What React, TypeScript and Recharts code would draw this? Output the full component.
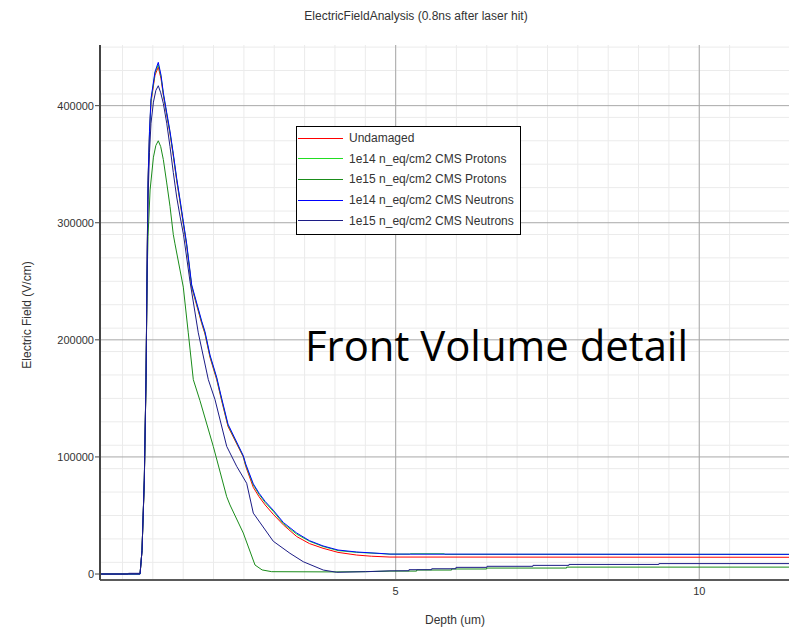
import React from 'react';
import { LineChart, Line, XAxis, YAxis, CartesianGrid, Legend } from 'recharts';

// ---- axis ranges / ticks ----
const X_MIN = 0.13;
const X_MAX = 11.61;
const Y_MIN = -5100;
const Y_MAX = 451800;

const xMajorTicks = [5, 10];
const xMinorTicks = [0.5, 1, 1.5, 2, 2.5, 3, 3.5, 4, 4.5, 5, 5.5, 6, 6.5, 7, 7.5, 8, 8.5, 9, 9.5, 10, 10.5, 11, 11.5];
const yMajorTicks = [0, 100000, 200000, 300000, 400000];
const yMajorGrid = [100000, 200000, 300000, 400000];
const yMinorTicks = [
  0, 10000, 20000, 30000, 40000, 50000, 60000, 70000, 80000, 90000,
  100000, 110000, 120000, 130000, 140000, 150000, 160000, 170000, 180000, 190000,
  200000, 210000, 220000, 230000, 240000, 250000, 260000, 270000, 280000, 290000,
  300000, 310000, 320000, 330000, 340000, 350000, 360000, 370000, 380000, 390000,
  400000, 410000, 420000, 430000, 440000, 450000,
];

// ---- series: [depth (um), field (V/cm)] ----
const undamaged: number[][] = [
  [0.13, 0], [0.79, 0], [0.822, 20000], [0.86, 80000], [0.888, 166000], [0.909, 277000],
  [0.921, 334000], [0.945, 375000], [0.97, 403000], [1.036, 426000], [1.09, 433000],
  [1.135, 423000], [1.173, 409000], [1.229, 392000], [1.283, 376000], [1.337, 357000],
  [1.393, 336000], [1.45, 317000], [1.502, 299000], [1.558, 280000], [1.64, 245000],
  [1.805, 214000], [1.859, 205000], [1.942, 185000], [2.052, 166000], [2.134, 148000],
  [2.238, 126000], [2.49, 100000], [2.53, 92000], [2.655, 74000], [2.75, 66000],
  [2.85, 59000], [2.984, 51000], [3.15, 42000], [3.37, 32000], [3.58, 26000],
  [3.803, 22000], [4.05, 18500], [4.358, 16200], [4.6, 15200], [4.906, 14500], [11.61, 14300],
];

const protons1e14: number[][] = [
  [0.13, 0], [0.79, 0], [0.822, 20000], [0.86, 81000], [0.888, 167000], [0.909, 278000],
  [0.921, 335000], [0.945, 376000], [0.97, 404000], [1.036, 428000], [1.09, 435000],
  [1.135, 425000], [1.173, 410000], [1.229, 393000], [1.283, 377000], [1.337, 358000],
  [1.393, 337000], [1.45, 318000], [1.502, 300000], [1.558, 281000], [1.64, 246000],
  [1.805, 215000], [1.859, 206000], [1.942, 186000], [2.052, 167000], [2.134, 149000],
  [2.238, 127000], [2.49, 100500], [2.53, 93000], [2.655, 76000], [2.75, 68000],
  [2.85, 61000], [2.984, 53500], [3.15, 43000], [3.37, 34000], [3.58, 28000],
  [3.803, 23500], [4.05, 20000], [4.358, 18500], [4.741, 17500], [4.906, 17000],
  [5.23, 17000], [5.24, 17300], [5.8, 17300], [5.81, 16800], [11.61, 16800],
];

const protons1e15: number[][] = [
  [0.13, 0], [0.79, 0], [0.822, 20000], [0.86, 80000], [0.888, 166000], [0.905, 250000],
  [0.921, 288000], [0.955, 328000], [1.01, 356000], [1.05, 366000], [1.09, 370000],
  [1.13, 365000], [1.173, 354000], [1.229, 334000], [1.283, 314000], [1.337, 290000],
  [1.365, 282000], [1.502, 245000], [1.584, 206000], [1.667, 166000], [1.777, 148000],
  [1.996, 109000], [2.217, 66000], [2.271, 59000], [2.49, 35000], [2.683, 7700],
  [2.8, 3500], [2.958, 2000], [4.0, 1800], [4.5, 2000], [4.906, 2500],
  [5.345, 2500], [5.346, 3400], [5.921, 3400], [5.922, 4300], [6.498, 4300], [6.499, 5100],
  [7.815, 5100], [7.816, 5900], [11.61, 5900],
];

const neutrons1e14: number[][] = [
  [0.13, 0], [0.79, 0], [0.822, 20000], [0.86, 82000], [0.888, 168000], [0.909, 279000],
  [0.921, 336000], [0.945, 378000], [0.97, 406000], [1.036, 429000], [1.09, 437000],
  [1.135, 426000], [1.173, 411000], [1.229, 394000], [1.283, 378000], [1.337, 359000],
  [1.393, 338000], [1.45, 319000], [1.502, 301000], [1.558, 282000], [1.64, 247000],
  [1.805, 216000], [1.859, 207000], [1.942, 187000], [2.052, 168000], [2.134, 150000],
  [2.238, 128000], [2.49, 101000], [2.53, 94000], [2.655, 77000], [2.75, 69000],
  [2.85, 62000], [2.984, 54500], [3.15, 44000], [3.37, 35000], [3.58, 28500],
  [3.803, 24000], [4.05, 20500], [4.358, 18800], [4.741, 17600], [4.906, 17000], [11.61, 16800],
];

const neutrons1e15: number[][] = [
  [0.13, 0], [0.59, 0], [0.6, 600], [0.79, 600], [0.822, 20000], [0.86, 80000],
  [0.888, 166000], [0.909, 275000], [0.921, 320000], [0.945, 360000], [0.97, 385000],
  [1.01, 403000], [1.05, 413000], [1.09, 417000], [1.13, 411000], [1.173, 402000],
  [1.229, 385000], [1.283, 365000], [1.337, 343000], [1.393, 322000], [1.45, 305000],
  [1.505, 290000], [1.612, 250000], [1.749, 206000], [1.914, 166000], [2.024, 149000],
  [2.217, 109000], [2.381, 92000], [2.546, 77500], [2.655, 52000], [2.984, 28000],
  [3.259, 17700], [3.478, 10500], [3.808, 3400], [4.028, 1500], [4.5, 2000], [4.906, 2700],
  [5.218, 2800], [5.219, 3700], [5.592, 3700], [5.593, 4500], [5.992, 4500], [5.993, 5700],
  [6.503, 5700], [6.504, 6600], [7.26, 6600], [7.261, 7400], [7.853, 7400], [7.854, 8200],
  [9.335, 8200], [9.336, 8900], [11.61, 8900],
];

const seriesNames = [
  'Undamaged',
  '1e14 n_eq/cm2 CMS Protons',
  '1e15 n_eq/cm2 CMS Protons',
  '1e14 n_eq/cm2 CMS Neutrons',
  '1e15 n_eq/cm2 CMS Neutrons',
];
const seriesColors = ['#ff0000', '#22dd22', '#1a8c1a', '#0000ff', '#1c1c86'];
const seriesValues = [undamaged, protons1e14, protons1e15, neutrons1e14, neutrons1e15];

const toPoints = (arr: number[][]) => arr.map(([depth, field]) => ({ depth, field }));

const FONT = '"Liberation Sans", Arial, sans-serif';

const EmptyTick = () => <g />;

const LegendBox = () => (
  <div
    style={{
      width: 225,
      height: 109,
      boxSizing: 'border-box',
      border: '1px solid #000',
      background: '#fff',
      position: 'relative',
      fontFamily: FONT,
      fontSize: 12,
      color: '#333',
    }}
  >
    {seriesNames.map((name, i) => (
      <div
        key={name}
        style={{
          position: 'absolute',
          left: 0,
          top: 1 + i * 20.6,
          height: 20.6,
          width: '100%',
          display: 'flex',
          alignItems: 'center',
        }}
      >
        <div style={{ marginLeft: 1, width: 45, height: 0, borderTop: `1px solid ${seriesColors[i]}` }} />
        <span style={{ marginLeft: 6, whiteSpace: 'nowrap', lineHeight: '14px' }}>{name}</span>
      </div>
    ))}
  </div>
);

export default function App() {
  return (
    <div style={{ position: 'absolute', left: 0, top: 0, width: 789, height: 627, overflow: 'hidden', background: '#fff' }}>
      <LineChart width={800} height={627} margin={{ top: 45, right: 3, bottom: 0, left: 0 }}>
        <CartesianGrid stroke="#ebebeb" strokeWidth={1} horizontalValues={yMinorTicks} verticalValues={xMinorTicks} />
        <CartesianGrid stroke="#a8a8a8" strokeWidth={1} horizontalValues={yMajorGrid} verticalValues={xMajorTicks} />

        <XAxis
          xAxisId="minor"
          type="number"
          dataKey="depth"
          domain={[X_MIN, X_MAX]}
          allowDataOverflow
          ticks={xMinorTicks}
          height={0}
          mirror
          tick={EmptyTick}
          axisLine={false}
          tickLine={{ stroke: '#444' }}
          tickSize={3}
        />
        <YAxis
          yAxisId="minor"
          type="number"
          domain={[Y_MIN, Y_MAX]}
          allowDataOverflow
          ticks={yMinorTicks}
          width={0}
          mirror
          tick={EmptyTick}
          axisLine={false}
          tickLine={{ stroke: '#444' }}
          tickSize={3}
        />
        <XAxis
          xAxisId="top"
          orientation="top"
          type="number"
          dataKey="depth"
          domain={[X_MIN, X_MAX]}
          allowDataOverflow
          height={0}
          tick={false}
          tickLine={false}
          axisLine={{ stroke: '#555', strokeWidth: 1 }}
        />

        <XAxis
          type="number"
          dataKey="depth"
          domain={[X_MIN, X_MAX]}
          allowDataOverflow
          ticks={xMajorTicks}
          height={47}
          tickSize={0}
          tickMargin={7}
          axisLine={{ stroke: '#5a5a5a', strokeWidth: 2 }}
          tickLine={false}
          tick={{ fontSize: 11, fill: '#333', fontFamily: FONT }}
        />
        <YAxis
          type="number"
          domain={[Y_MIN, Y_MAX]}
          allowDataOverflow
          ticks={yMajorTicks}
          width={100}
          tickSize={5}
          tickMargin={1}
          axisLine={{ stroke: '#444', strokeWidth: 2 }}
          tickLine={{ stroke: '#444' }}
          tick={{ fontSize: 11, fill: '#333', fontFamily: FONT }}
        />

        {seriesValues.map((vals, i) => (
          <Line
            key={seriesNames[i]}
            data={toPoints(vals)}
            dataKey="field"
            name={seriesNames[i]}
            type="linear"
            stroke={seriesColors[i]}
            strokeWidth={1}
            dot={false}
            activeDot={false}
            isAnimationActive={false}
          />
        ))}

        <Legend
          layout="horizontal"
          verticalAlign="middle"
          align="center"
          wrapperStyle={{ left: 296, top: 126, width: 225, height: 109 }}
          content={() => <LegendBox />}
        />
      </LineChart>

      <svg width={789} height={627} style={{ position: 'absolute', left: 0, top: 0, pointerEvents: 'none' }}>
        <text x={416} y={20} textAnchor="middle" fontSize={12} fill="#333" fontFamily={FONT}>
          ElectricFieldAnalysis (0.8ns after laser hit)
        </text>
        <text transform="translate(31,315) rotate(-90)" textAnchor="middle" fontSize={12} fill="#333" fontFamily={FONT}>
          Electric Field (V/cm)
        </text>
        <text x={455} y={624} textAnchor="middle" fontSize={12} fill="#333" fontFamily={FONT}>
          Depth (um)
        </text>
        <text
          x={305}
          y={361}
          fontSize={42}
          fill="#000"
          fontFamily='"Open Sans", "Noto Sans", sans-serif'
          textLength={383}
          lengthAdjust="spacingAndGlyphs"
        >
          Front Volume detail
        </text>
      </svg>
    </div>
  );
}
